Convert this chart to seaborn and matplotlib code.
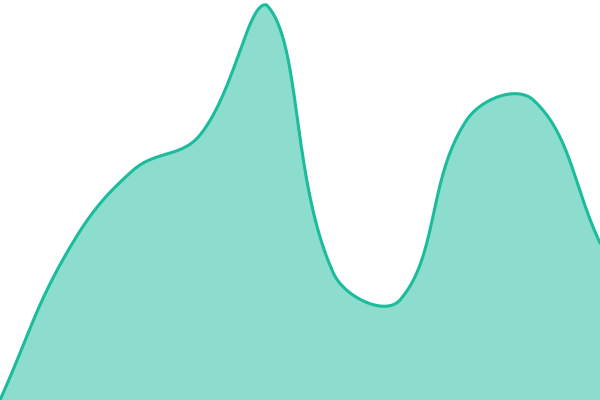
import numpy as np
import pandas as pd
import matplotlib
matplotlib.use("Agg")
import matplotlib.pyplot as plt
import seaborn as sns

# Data (one point per step)
steps = list(range(10))
values = [0, 147, 230, 265, 395, 127, 100, 280, 300, 157]

Y_MAX = 400
TENSION = 0.4


def spline_curve(xs, ys, px_per_x, px_per_y, n=60):
    """Smooth tension spline through the points (control points like Chart.js)."""
    xs = np.asarray(xs, float)
    ys = np.asarray(ys, float)
    m = len(xs)
    cp_prev, cp_next = [], []
    for i in range(m):
        p = np.array([xs[i], ys[i]])
        a = np.array([xs[max(i - 1, 0)], ys[max(i - 1, 0)]])
        b = np.array([xs[min(i + 1, m - 1)], ys[min(i + 1, m - 1)]])
        scale = np.array([px_per_x, px_per_y])
        d01 = np.hypot(*((p - a) * scale))
        d12 = np.hypot(*((b - p) * scale))
        tot = d01 + d12
        s01 = d01 / tot if tot else 0
        s12 = d12 / tot if tot else 0
        fa = TENSION * s01
        fb = TENSION * s12
        c1 = p - fa * (b - a)
        c2 = p + fb * (b - a)
        # keep control points inside the chart area
        c1 = np.clip(c1, [xs[0], 0], [xs[-1], Y_MAX])
        c2 = np.clip(c2, [xs[0], 0], [xs[-1], Y_MAX])
        cp_prev.append(c1)
        cp_next.append(c2)
    out_x, out_y = [], []
    t = np.linspace(0, 1, n)
    for i in range(m - 1):
        p0 = np.array([xs[i], ys[i]])
        p1 = cp_next[i]
        p2 = cp_prev[i + 1]
        p3 = np.array([xs[i + 1], ys[i + 1]])
        pts = ((1 - t) ** 3)[:, None] * p0 + (3 * (1 - t) ** 2 * t)[:, None] * p1 \
            + (3 * (1 - t) * t ** 2)[:, None] * p2 + (t ** 3)[:, None] * p3
        out_x.extend(pts[:, 0])
        out_y.extend(pts[:, 1])
    return np.array(out_x), np.array(out_y)


sns.set_style("white")
fig = plt.figure(figsize=(6, 4), dpi=100)
ax = fig.add_axes([0, 0, 1, 1])

cx, cy = spline_curve(steps, values, 600 / 9, 400 / Y_MAX)
curve = pd.DataFrame({"step": cx, "value": cy})

ax.fill_between(curve["step"], curve["value"], 0, color="#1abc9c", alpha=0.5, lw=0)
sns.lineplot(data=curve, x="step", y="value", sort=False, color="#1abc9c",
             linewidth=2.2, ax=ax)

ax.set_xlim(0, 9)
ax.set_ylim(0, Y_MAX)
ax.axis("off")

fig.savefig("out.png", dpi=100)
